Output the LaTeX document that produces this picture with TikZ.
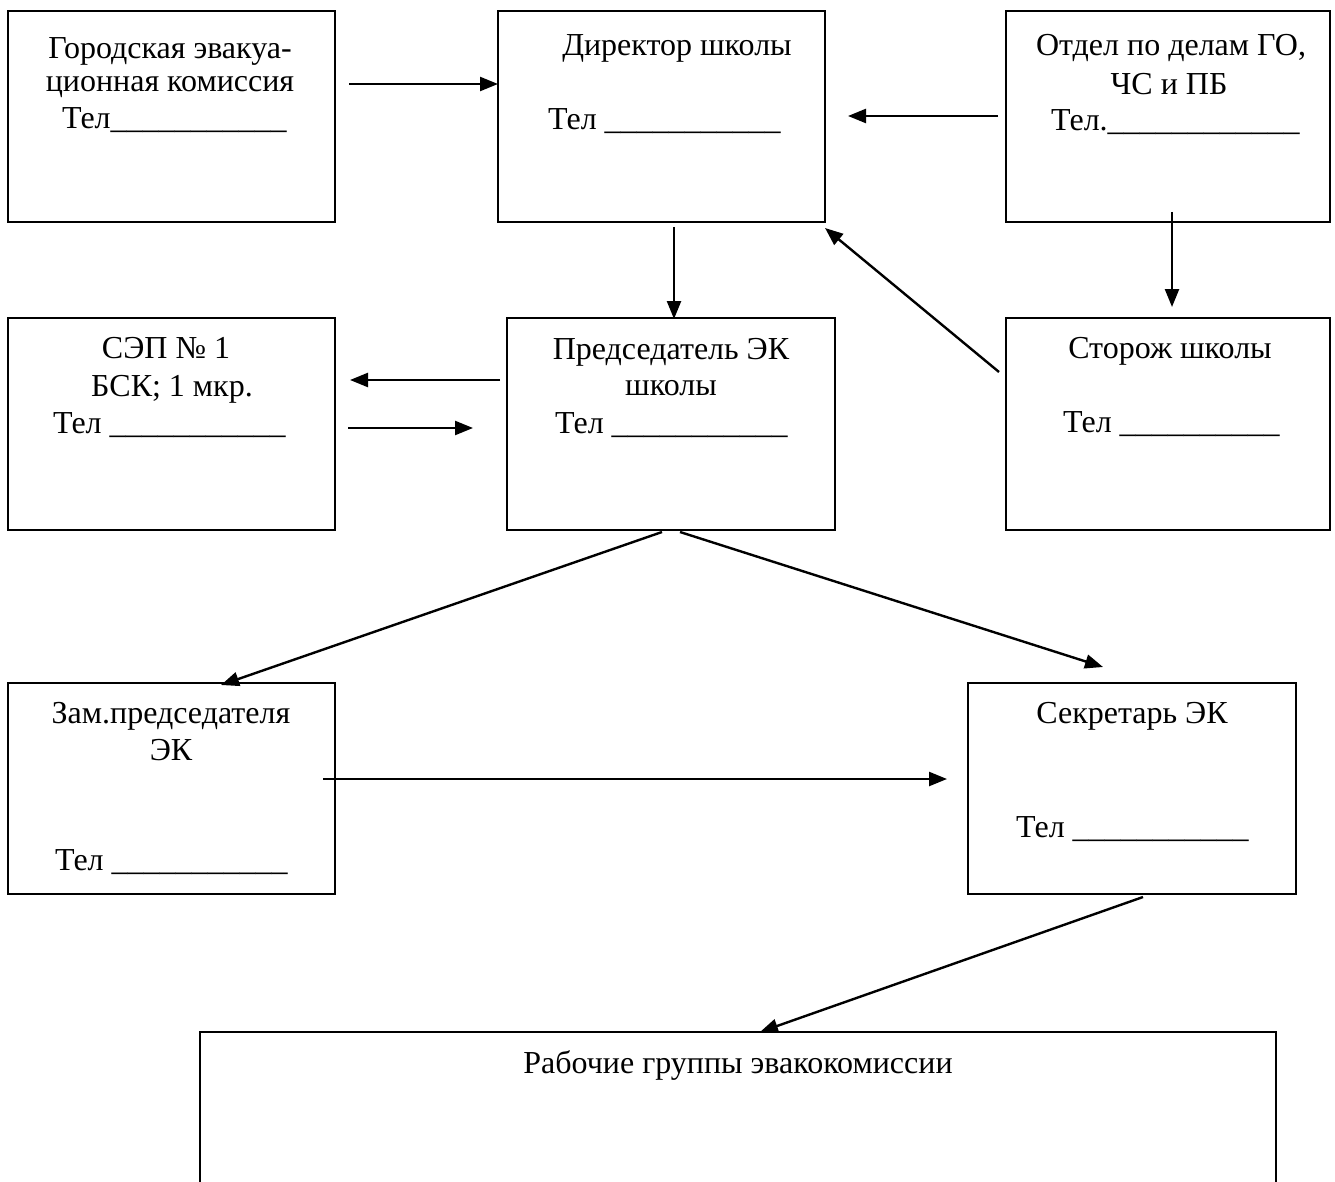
\documentclass[tikz,border=0pt]{standalone}
\usepackage{fontspec}
\setmainfont{Liberation Serif}
\usetikzlibrary{arrows.meta,calc}
\newcommand{\usTen}{\_\_\_\_\_\_\_\_\_\_}
\newcommand{\usEl}{\_\_\_\_\_\_\_\_\_\_\_}
\newcommand{\usTw}{\_\_\_\_\_\_\_\_\_\_\_\_}
\begin{document}
\begin{tikzpicture}[x=1pt,y=-1pt,
  box/.style={draw,line width=2.3pt,inner sep=0pt,outer sep=0pt,anchor=north west},
  txt/.style={inner sep=0pt,anchor=base,font=\fontsize{32}{37}\selectfont},
  tel/.style={txt,anchor=base west},
  arr/.style={line width=2.4pt,-{Triangle[length=18pt,width=14pt]}}]
\useasboundingbox (0,0) rectangle (1335,1182);
\clip (0,0) rectangle (1335,1182);
% boxes
\node[box,minimum width=327pt,minimum height=211pt] (b1) at (8,11) {};
\node[box,minimum width=327pt,minimum height=211pt] (b2) at (498,11) {};
\node[box,minimum width=324pt,minimum height=211pt] (b3) at (1006,11) {};
\node[box,minimum width=327pt,minimum height=212pt] (b4) at (8,318) {};
\node[box,minimum width=328pt,minimum height=212pt] (b5) at (507,318) {};
\node[box,minimum width=324pt,minimum height=212pt] (b6) at (1006,318) {};
\node[box,minimum width=327pt,minimum height=211pt] (b7) at (8,683) {};
\node[box,minimum width=328pt,minimum height=211pt] (b8) at (968,683) {};
\node[box,minimum width=1076pt,minimum height=180pt] (b9) at (200,1032) {};
% texts
\node[txt] (t1a) at (170,59) {Городская эвакуа-};
\node[txt] (t1b) at (170,92) {ционная комиссия};
\node[tel] (t1c) at (62,129) {Тел\usEl};
\node[txt] (t2a) at (677,56) {Директор школы};
\node[tel] (t2b) at (548,130) {Тел \usEl};
\node[txt] (t3a) at (1171,56) {Отдел по делам ГО,};
\node[txt] (t3b) at (1169,95) {ЧС и ПБ};
\node[tel] (t3c) at (1051,131) {Тел.\usTw};
\node[txt] (t4a) at (166,358) {СЭП № 1};
\node[txt] (t4b) at (172,396) {БСК; 1 мкр.};
\node[tel] (t4c) at (53,433) {Тел \usEl};
\node[txt] (t5a) at (671,359) {Председатель ЭК};
\node[txt] (t5b) at (671,395) {школы};
\node[tel] (t5c) at (555,433) {Тел \usEl};
\node[txt] (t6a) at (1170,358) {Сторож школы};
\node[tel] (t6b) at (1063,432) {Тел \usTen};
\node[txt] (t7a) at (171,723) {Зам.председателя};
\node[txt] (t7b) at (171,760) {ЭК};
\node[tel] (t7c) at (55,870) {Тел \usEl};
\node[txt] (t8a) at (1132,723) {Секретарь ЭК};
\node[tel] (t8b) at (1016,837) {Тел \usEl};
\node[txt] (t9a) at (738,1073) {Рабочие группы эвакокомиссии};
% connectors
\draw[arr] ($(b1.north east)+(14,73)$) -- ($(b2.north west)+(0,73)$);
\draw[arr] ($(b3.north west)+(-8,105)$) -- ($(b2.north east)+(23,105)$);
\draw[arr] ($(b2.south west)+(176,5)$) -- ($(b5.north west)+(167,1)$);
\draw[arr] ($(b3.south west)+(166,-10)$) -- ($(b6.north west)+(166,-11)$);
\draw[arr] ($(b6.north west)+(-7,54)$) -- ($(b2.south east)+(0,6)$);
\draw[arr] ($(b5.north west)+(-7,62)$) -- ($(b4.north east)+(15,62)$);
\draw[arr] ($(b4.north east)+(13,110)$) -- ($(b5.north west)+(-34,110)$);
\draw[arr] ($(b5.south west)+(155,2)$) -- ($(b7.north west)+(213,2)$);
\draw[arr] ($(b5.south west)+(173,2)$) -- ($(b8.north west)+(135,-16)$);
\draw[arr] ($(b7.north east)+(-12,96)$) -- ($(b8.north west)+(-21,96)$);
\draw[arr] ($(b8.south west)+(175,3)$) -- ($(b9.north west)+(560,0)$);
\end{tikzpicture}
\end{document}
